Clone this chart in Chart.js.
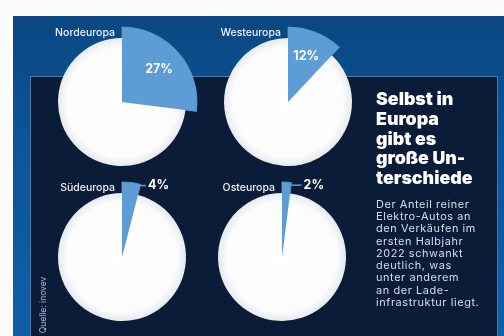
<!DOCTYPE html>
<html lang="de">
<head>
<meta charset="utf-8">
<script src="https://cdn.jsdelivr.net/npm/chart.js@4.4.1/dist/chart.umd.min.js"></script>
<style>
  html, body { margin: 0; padding: 0; }
  body { width: 504px; height: 336px; position: relative; overflow: hidden; background: #fbfbfb; font-family: Inter, 'Open Sans', sans-serif; }
  #frame { position: absolute; left: 13px; top: 16px; width: 491px; height: 320px; background: linear-gradient(180deg, #0a4782 0%, #0c5598 40%, #0f5fa8 100%); }
  #inner { position: absolute; left: 30px; top: 76px; width: 466px; height: 270px; background: #0a1c37; border: 1px solid #4d77a6; }
  canvas.pie { position: absolute; }
  #side { position: absolute; left: 376px; top: 89px; width: 124px; }
  #side h1 { margin: 0; color: #ffffff; font-size: 17.8px; line-height: 19.8px; font-weight: 900; letter-spacing: 0px; }
  #side p { margin: 10px 0 0 0; color: #d9dfe8; font-size: 10.9px; line-height: 12.25px; letter-spacing: 0.6px; }
  #source { position: absolute; left: 36px; top: 300px; color: #a9b6c7; font-size: 8.5px; transform: rotate(-90deg); transform-origin: center; white-space: nowrap; width: 64px; margin-left: -25px; text-align: center; }
</style>
</head>
<body>
<div id="frame"></div>
<div id="inner"></div>
<canvas class="pie" id="pie0" width="180" height="180"></canvas>
<canvas class="pie" id="pie1" width="180" height="180"></canvas>
<canvas class="pie" id="pie2" width="180" height="180"></canvas>
<canvas class="pie" id="pie3" width="180" height="180"></canvas>
<div id="side">
  <h1>Selbst in<br>Europa<br>gibt es<br>große Un-<br>terschiede</h1>
  <p>Der Anteil reiner<br>Elektro-Autos an<br>den Verkäufen im<br>ersten Halbjahr<br>2022 schwankt<br>deutlich, was<br>unter anderem<br>an der Lade-<br>infrastruktur liegt.</p>
</div>
<div id="source">Quelle: inovev</div>
<script>
// Anteil reiner Elektro-Autos an den Verkäufen, 1. Halbjahr 2022 (%)
const regions = ['Nordeuropa', 'Westeuropa', 'Südeuropa', 'Osteuropa'];
const shares = [27, 12, 4, 2];

// pie centres on the page
const centers = [[122, 102], [288, 102], [122, 257], [282, 257]];

const sliceBlue = '#5e9cd6';
const canvasSize = 180;

// slice 0 is blue; slice 1 is a white disc with a faint grey rim
function discFill(context) {
	if (context.dataIndex === 0) return sliceBlue;
	const chart = context.chart;
	const area = chart.chartArea;
	if (!area) return '#ffffff';
	const cx = (area.left + area.right) / 2;
	const cy = (area.top + area.bottom) / 2;
	const g = chart.ctx.createRadialGradient(cx, cy, 0, cx, cy, 64);
	g.addColorStop(0, '#ffffff');
	g.addColorStop(0.86, '#fcfcfd');
	g.addColorStop(1, '#e6e9ee');
	return g;
}

// region name above the pie, percentage inside the slice or beside it
const pieLabels = {
	id: 'pieLabels',
	afterDatasetsDraw(chart, args, opts) {
		const arc = chart.getDatasetMeta(0).data[0];
		const ctx = chart.ctx;
		const value = chart.data.datasets[0].data[0];
		const R = arc.outerRadius;
		const mid = (arc.startAngle + arc.endAngle) / 2;
		ctx.save();
		ctx.fillStyle = '#eef1f5';
		ctx.font = '500 10.5px Inter, sans-serif';
		ctx.textAlign = 'right';
		ctx.textBaseline = 'middle';
		ctx.fillText(opts.name, arc.x - 7, arc.y - 69);

		ctx.fillStyle = '#ffffff';
		ctx.font = 'bold 12.5px Inter, sans-serif';
		if (value >= 8) {
			const r = R * 0.66;
			ctx.textAlign = 'center';
			ctx.fillText(value + '%', arc.x + Math.cos(mid) * r, arc.y + Math.sin(mid) * r);
		} else {
			const sx = arc.x + Math.cos(mid) * (R - 3);
			const sy = arc.y + Math.sin(mid) * (R - 3);
			ctx.strokeStyle = sliceBlue;
			ctx.lineWidth = 1.5;
			ctx.beginPath();
			ctx.moveTo(sx, sy);
			ctx.lineTo(sx + 15, sy);
			ctx.stroke();
			ctx.textAlign = 'left';
			ctx.fillText(value + '%', sx + 17, sy);
		}
		ctx.restore();
	}
};

regions.forEach((name, i) => {
	const canvas = document.getElementById('pie' + i);
	canvas.style.left = (centers[i][0] - canvasSize / 2) + 'px';
	canvas.style.top = (centers[i][1] - canvasSize / 2) + 'px';
	const v = shares[i];
	new Chart(canvas.getContext('2d'), {
		type: 'pie',
		data: {
			labels: [name, 'Rest'],
			datasets: [
				{
					// outer ring: only the highlighted slice is visible
					data: [v, 100 - v],
					backgroundColor: [sliceBlue, 'rgba(0,0,0,0)'],
					borderColor: [sliceBlue, 'rgba(0,0,0,0)'],
					borderWidth: [0.8, 0],
					weight: 11,
				},
				{
					data: [v, 100 - v],
					backgroundColor: discFill,
					borderColor: [sliceBlue, 'rgba(0,0,0,0)'],
					borderWidth: [0.8, 0],
					weight: 64,
				},
			],
		},
		options: {
			responsive: false,
			animation: false,
			events: [],
			radius: 75,
			layout: { padding: 0 },
			plugins: {
				legend: { display: false },
				tooltip: { enabled: false },
				pieLabels: { name: name },
			},
		},
		plugins: [pieLabels],
	});
});
</script>
</body>
</html>
